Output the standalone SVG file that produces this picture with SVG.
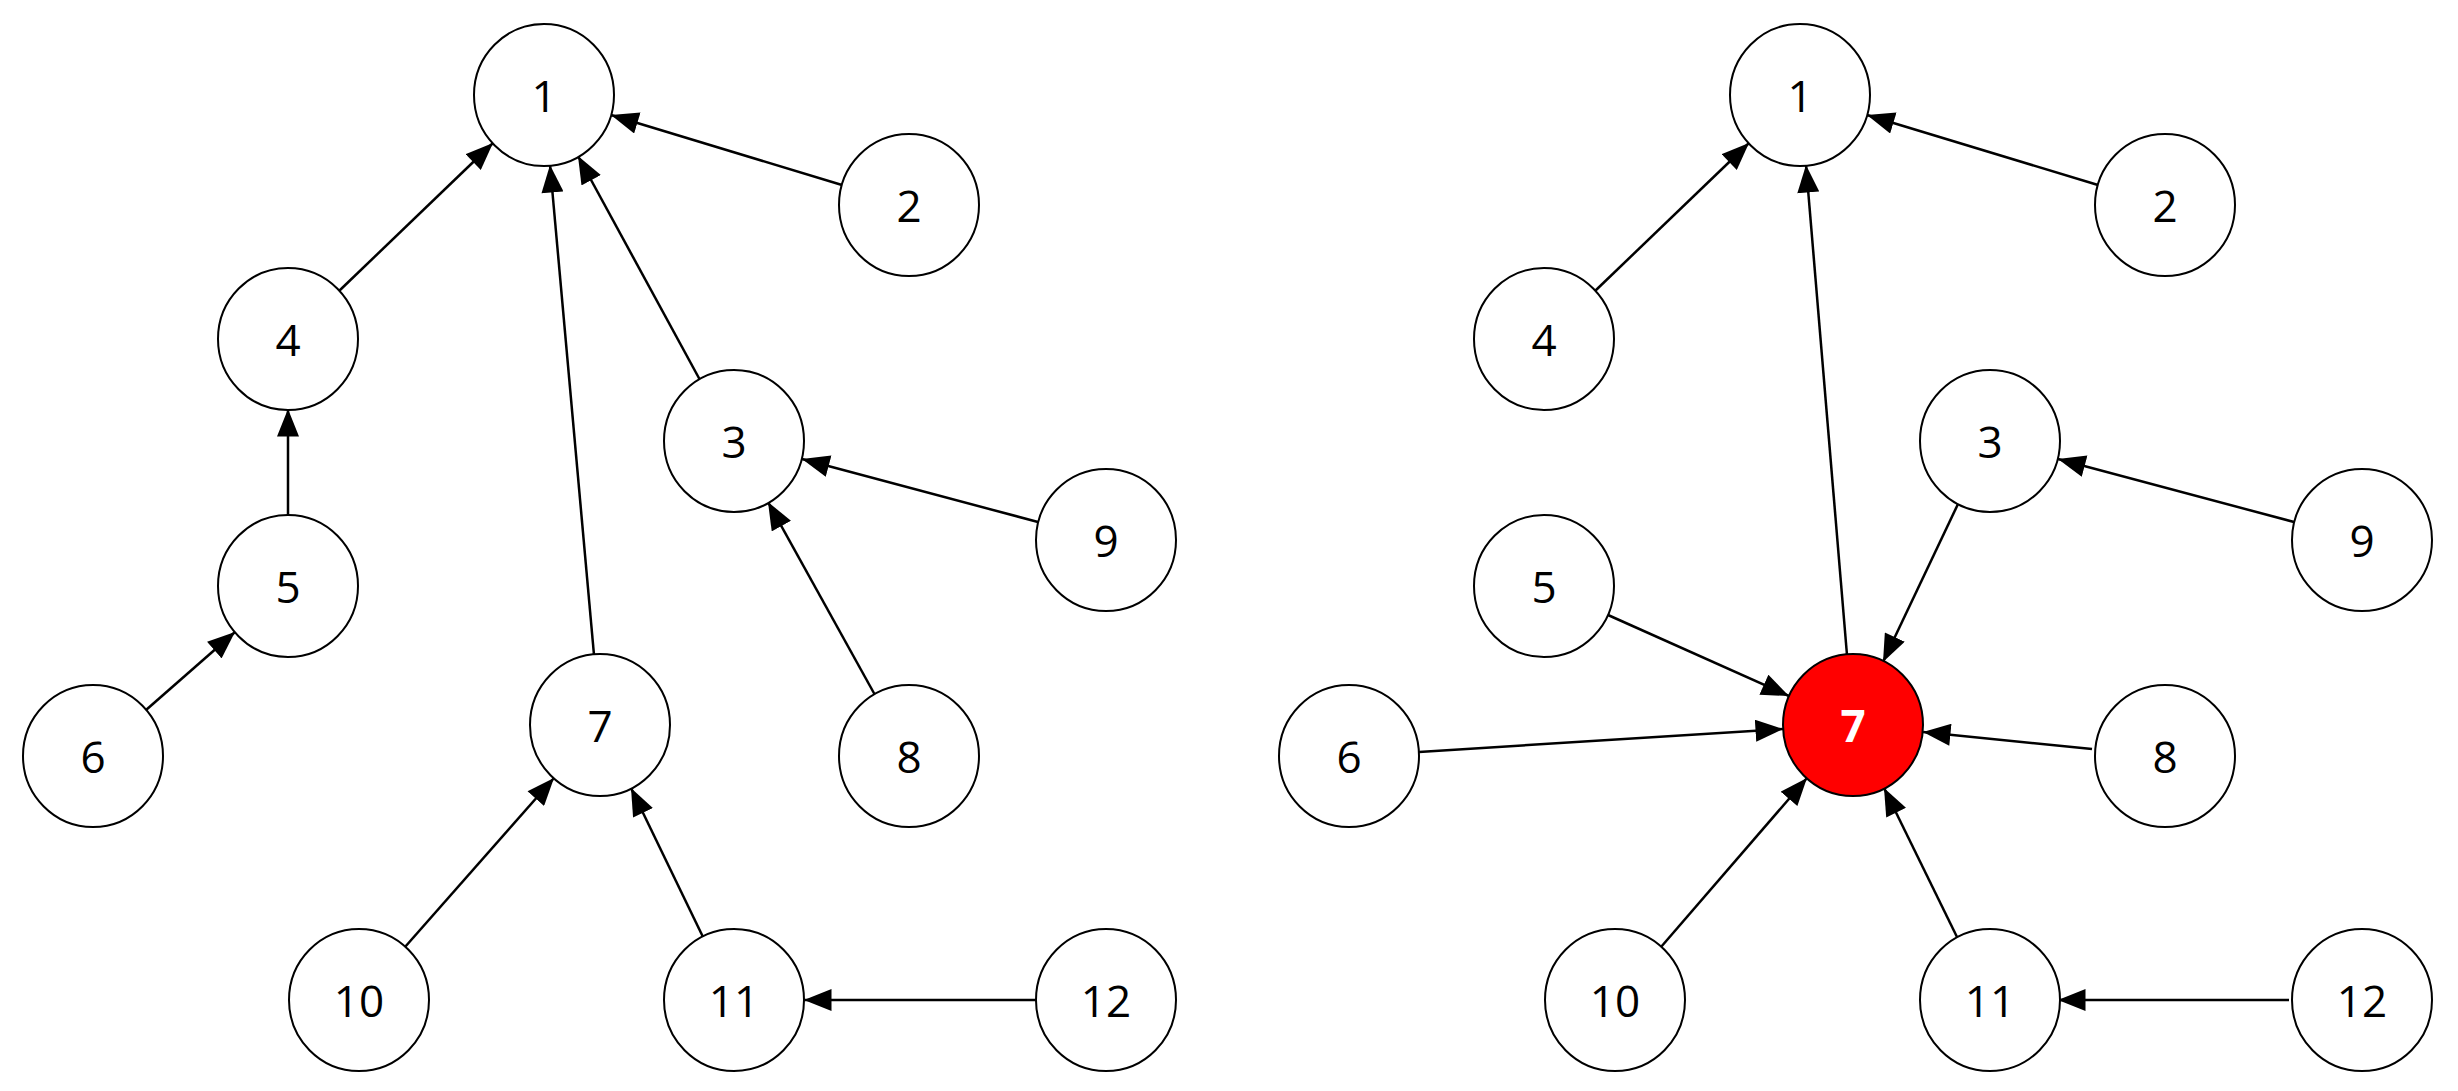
<svg xmlns="http://www.w3.org/2000/svg" width="2458" height="1091" viewBox="0 0 2458 1091">
<style>
.n ellipse{fill:#fff;stroke:#000;stroke-width:2}
.n text{font-family:"Open Sans","Liberation Sans",sans-serif;font-size:44px;text-anchor:middle;dominant-baseline:central;fill:#000}
.r ellipse{fill:#ff0000}
.r text{fill:#fff;font-weight:bold}
.e line{stroke:#000;stroke-width:2.5;marker-end:url(#a)}
</style>
<defs><marker id="a" viewBox="0 0 10 8" refX="10" refY="4" markerWidth="28" markerHeight="22" markerUnits="userSpaceOnUse" orient="auto"><path d="M0,0 L10,4 L0,8 z" fill="#000"/></marker></defs>
<rect width="2458" height="1091" fill="#fff"/>
<g id="edges" class="e">
<line x1="842" y1="185" x2="611" y2="115"/>
<line x1="339" y1="291" x2="493" y2="143"/>
<line x1="594" y1="655" x2="550" y2="165"/>
<line x1="700" y1="380" x2="578" y2="156"/>
<line x1="288" y1="516" x2="288" y2="409"/>
<line x1="146" y1="710" x2="235" y2="632"/>
<line x1="1038" y1="522" x2="802" y2="459"/>
<line x1="875" y1="695" x2="768" y2="502"/>
<line x1="405" y1="947" x2="554" y2="778"/>
<line x1="703" y1="937" x2="631" y2="788"/>
<line x1="1036" y1="1000" x2="804" y2="1000"/>
<line x1="2098" y1="185" x2="1867" y2="115"/>
<line x1="1595" y1="291" x2="1749" y2="143"/>
<line x1="1847" y1="655" x2="1806" y2="165"/>
<line x1="2294" y1="522" x2="2058" y2="459"/>
<line x1="1958" y1="504" x2="1883" y2="662"/>
<line x1="1608" y1="615" x2="1789" y2="696"/>
<line x1="1419" y1="752" x2="1783" y2="729"/>
<line x1="2092" y1="749" x2="1923" y2="732"/>
<line x1="1661" y1="947" x2="1807" y2="778"/>
<line x1="1957" y1="937" x2="1884" y2="788"/>
<line x1="2289" y1="1000" x2="2058" y2="1000"/>
</g>
<g id="L1" class="n"><ellipse cx="544" cy="95" rx="70" ry="71"/><text x="544" y="95">1</text></g>
<g id="L2" class="n"><ellipse cx="909" cy="205" rx="70" ry="71"/><text x="909" y="205">2</text></g>
<g id="L3" class="n"><ellipse cx="734" cy="441" rx="70" ry="71"/><text x="734" y="441">3</text></g>
<g id="L4" class="n"><ellipse cx="288" cy="339" rx="70" ry="71"/><text x="288" y="339">4</text></g>
<g id="L5" class="n"><ellipse cx="288" cy="586" rx="70" ry="71"/><text x="288" y="586">5</text></g>
<g id="L6" class="n"><ellipse cx="93" cy="756" rx="70" ry="71"/><text x="93" y="756">6</text></g>
<g id="L7" class="n"><ellipse cx="600" cy="725" rx="70" ry="71"/><text x="600" y="725">7</text></g>
<g id="L8" class="n"><ellipse cx="909" cy="756" rx="70" ry="71"/><text x="909" y="756">8</text></g>
<g id="L9" class="n"><ellipse cx="1106" cy="540" rx="70" ry="71"/><text x="1106" y="540">9</text></g>
<g id="L10" class="n"><ellipse cx="359" cy="1000" rx="70" ry="71"/><text x="359" y="1000">10</text></g>
<g id="L11" class="n"><ellipse cx="734" cy="1000" rx="70" ry="71"/><text x="734" y="1000">11</text></g>
<g id="L12" class="n"><ellipse cx="1106" cy="1000" rx="70" ry="71"/><text x="1106" y="1000">12</text></g>
<g id="R1" class="n"><ellipse cx="1800" cy="95" rx="70" ry="71"/><text x="1800" y="95">1</text></g>
<g id="R2" class="n"><ellipse cx="2165" cy="205" rx="70" ry="71"/><text x="2165" y="205">2</text></g>
<g id="R3" class="n"><ellipse cx="1990" cy="441" rx="70" ry="71"/><text x="1990" y="441">3</text></g>
<g id="R4" class="n"><ellipse cx="1544" cy="339" rx="70" ry="71"/><text x="1544" y="339">4</text></g>
<g id="R5" class="n"><ellipse cx="1544" cy="586" rx="70" ry="71"/><text x="1544" y="586">5</text></g>
<g id="R6" class="n"><ellipse cx="1349" cy="756" rx="70" ry="71"/><text x="1349" y="756">6</text></g>
<g id="R7" class="n r"><ellipse cx="1853" cy="725" rx="70" ry="71"/><text x="1853" y="725">7</text></g>
<g id="R8" class="n"><ellipse cx="2165" cy="756" rx="70" ry="71"/><text x="2165" y="756">8</text></g>
<g id="R9" class="n"><ellipse cx="2362" cy="540" rx="70" ry="71"/><text x="2362" y="540">9</text></g>
<g id="R10" class="n"><ellipse cx="1615" cy="1000" rx="70" ry="71"/><text x="1615" y="1000">10</text></g>
<g id="R11" class="n"><ellipse cx="1990" cy="1000" rx="70" ry="71"/><text x="1990" y="1000">11</text></g>
<g id="R12" class="n"><ellipse cx="2362" cy="1000" rx="70" ry="71"/><text x="2362" y="1000">12</text></g>
</svg>
